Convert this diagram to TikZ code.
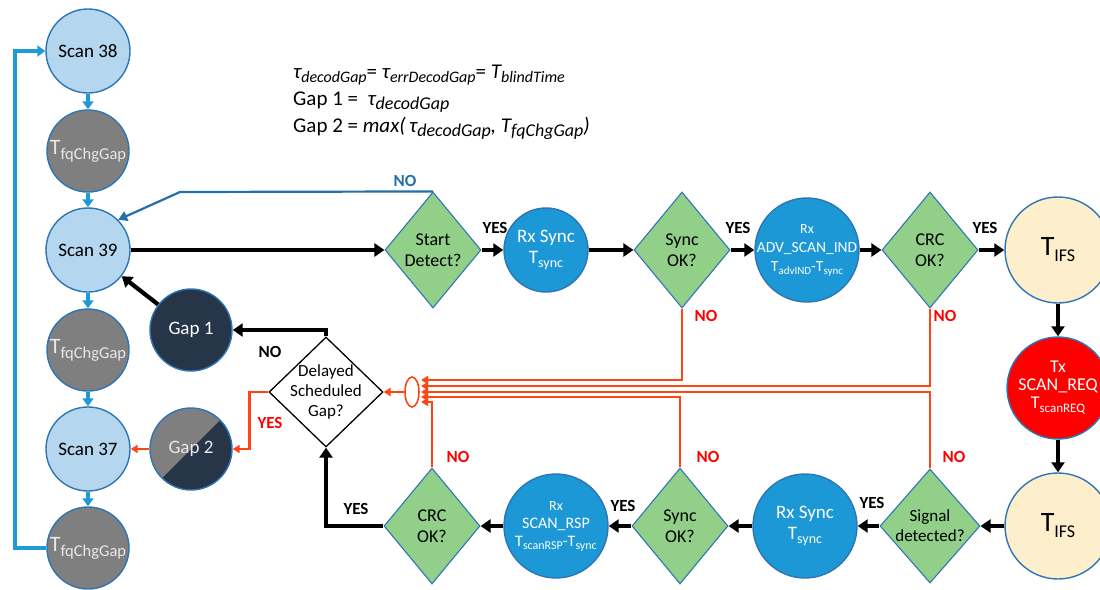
\documentclass[tikz,border=0pt]{standalone}
\usepackage{fontspec}
\setmainfont{Carlito}
\usetikzlibrary{shapes.geometric,arrows.meta,calc}
\definecolor{scanfill}{RGB}{180,214,238}
\definecolor{edgeblue}{RGB}{46,117,182}
\definecolor{grayfill}{RGB}{127,127,127}
\definecolor{navy}{RGB}{38,53,72}
\definecolor{rxblue}{RGB}{27,152,213}
\definecolor{decgreen}{RGB}{146,208,138}
\definecolor{cream}{RGB}{253,239,204}
\definecolor{arrowblue}{RGB}{30,154,214}
\definecolor{noblue}{RGB}{36,110,170}
\definecolor{redline}{RGB}{255,69,20}
\definecolor{lighttext}{RGB}{232,232,232}
\newcommand\sbx[3]{\raisebox{-#3}{\fontsize{#1}{#1}\selectfont #2}}
\begin{document}
\begin{tikzpicture}[x=1pt,y=-1pt,
  base/.style={circle, draw=edgeblue, line width=1.4pt, inner sep=0pt},
  scanc/.style={base, fill=scanfill, minimum size=84pt},
  grayc/.style={base, fill=grayfill, minimum size=82pt},
  darkc/.style={base, fill=navy, minimum size=82pt},
  rxc/.style={base, fill=rxblue, minimum size=84pt},
  rxbig/.style={base, fill=rxblue, minimum size=104pt},
  ifsc/.style={base, fill=cream, minimum size=106pt},
  txc/.style={base, fill=red, minimum size=102pt},
  dec/.style={diamond, draw=edgeblue, line width=1.1pt, fill=decgreen, minimum width=96pt, minimum height=116pt, inner sep=0pt},
  ctext/.style={align=center, inner sep=0pt, text=black, font=\fontsize{19}{21}\selectfont},
  wtext/.style={ctext, text=white},
  gtext/.style={ctext, text=lighttext},
  blk/.style={line width=4.2pt, -{Triangle[length=10pt,width=13pt]}},
  bluearr/.style={draw=arrowblue, line width=3.4pt, -{Triangle[length=8pt,width=11pt]}},
  noarr/.style={draw=noblue, line width=2.2pt, -{Triangle[length=9pt,width=10pt]}},
  redarr/.style={draw=redline, line width=2.5pt, -{Triangle[length=7pt,width=8pt]}},
  lbl/.style={font=\bfseries\fontsize{17}{19}\selectfont, inner sep=0pt},
  frm/.style={anchor=base west, inner sep=0pt, font=\fontsize{21}{23}\selectfont}
]
\useasboundingbox (0,0) rectangle (1100,589);

% formula text
\node[frm] (f1) at (293,78) {\itshape τ\sbx{16}{decodGap}{4pt}\upshape= \itshape τ\sbx{16}{errDecodGap}{4pt}\upshape= \itshape T\sbx{16}{blindTime}{4pt}};
\node[frm] (f2) at (293,105) {Gap 1 =\hspace{0.45em}{\itshape τ\sbx{18}{decodGap}{4pt}}};
\node[frm] (f3) at (293,132) {Gap 2 = {\itshape max(\,τ\sbx{18}{decodGap}{4pt}, T\sbx{18}{fqChgGap}{4pt})}};

% left column
\node[scanc, label={[ctext]center:Scan 38}] (scan38) at (88,51) {};
\node[grayc, label={[gtext, font=\fontsize{22}{22}\selectfont]center:T\sbx{16.5}{fqChgGap}{5pt}}] (fq1) at (88,151) {};
\node[scanc, label={[ctext]center:Scan 39}] (scan39) at (88,250) {};
\node[grayc, label={[gtext, font=\fontsize{22}{22}\selectfont]center:T\sbx{16.5}{fqChgGap}{5pt}}] (fq2) at (88,350) {};
\node[scanc, label={[ctext]center:Scan 37}] (scan37) at (88,449) {};
\node[grayc, label={[gtext, font=\fontsize{22}{22}\selectfont]center:T\sbx{16.5}{fqChgGap}{5pt}}] (fq3) at (88,548) {};
\coordinate (loopc) at (15,548);

% gaps
\node[darkc, label={[wtext]center:Gap 1}] (gap1) at (191,330) {};
\node[darkc, path picture={\fill[grayfill] (path picture bounding box.north west) -- (path picture bounding box.north east) -- (path picture bounding box.south west) -- cycle;}, label={[gtext]center:Gap 2}] (gap2) at (191,449) {};

% delayed decision
\node[diamond, draw=black, line width=1.3pt, fill=white, minimum width=114pt, minimum height=110pt, inner sep=0pt,
  label={[ctext, font=\fontsize{17}{20}\selectfont]center:Delayed\\Scheduled\\Gap?}] (del) at (326,392) {};
\node[ellipse, draw=redline, line width=1.6pt, minimum width=14pt, minimum height=30pt, inner sep=0pt] (orgate) at (412,392) {};

% top row
\node[dec, label={[ctext, font=\fontsize{18}{21}\selectfont]center:Start\\Detect?}] (start) at (433,250) {};
\node[rxc, label={[wtext]center:Rx Sync\\T\sbx{14}{sync}{4pt}}] (rxs1) at (546,250) {};
\node[dec, label={[ctext, font=\fontsize{18}{21}\selectfont]center:Sync\\OK?}] (so1) at (682,250) {};
\node[rxbig, label={[wtext, font=\fontsize{15.5}{19}\selectfont]center:{\fontsize{14}{19}\selectfont Rx}\\ADV\_SCAN\_IND\\T\sbx{11}{advIND}{3pt}-T\sbx{11}{sync}{3pt}}] (rxadv) at (807,250) {};
\node[dec, label={[ctext, font=\fontsize{18}{21}\selectfont]center:CRC\\OK?}] (crc1) at (930,250) {};
\node[ifsc, label={[ctext]center:{\fontsize{28}{30}\selectfont T}\sbx{18}{IFS}{6pt}}] (ifs1) at (1058,250) {};
\node[txc, label={[wtext, font=\fontsize{18}{18}\selectfont]center:Tx\\SCAN\_REQ\\T\sbx{13}{scanREQ}{4pt}}] (tx) at (1058,388) {};
\node[ifsc, label={[ctext]center:{\fontsize{28}{30}\selectfont T}\sbx{18}{IFS}{6pt}}] (ifs2) at (1058,526) {};

% bottom row
\node[dec, minimum width=100pt, minimum height=114pt, label={[ctext, font=\fontsize{17}{20}\selectfont]center:Signal\\detected?}] (sd) at (930,526) {};
\node[rxbig, label={[wtext]center:Rx Sync\\T\sbx{14}{sync}{4pt}}] (rxs2) at (805,526) {};
\node[dec, label={[ctext, font=\fontsize{18}{21}\selectfont]center:Sync\\OK?}] (so2) at (680,526) {};
\node[rxbig, label={[wtext, font=\fontsize{16}{18}\selectfont]center:{\fontsize{14}{18}\selectfont Rx}\\SCAN\_RSP\\T\sbx{12}{scanRSP}{3pt}-T\sbx{12}{sync}{3pt}}] (rxrsp) at (556,526) {};
\node[dec, label={[ctext, font=\fontsize{18}{21}\selectfont]center:CRC\\OK?}] (crc2) at (432,526) {};

% OR gate inputs
\coordinate (o1) at (421,380);
\coordinate (o2) at (421,386);
\coordinate (o3) at (421,392);
\coordinate (o4) at (421,397);
\coordinate (o5) at (421,402);
\coordinate (nobend) at (180,192);

% left column connectors
\draw[bluearr] (scan38) -- (fq1);
\draw[bluearr] (fq1) -- (scan39);
\draw[bluearr] (scan39) -- (fq2);
\draw[bluearr] (fq2) -- (scan37);
\draw[bluearr] (scan37) -- (fq3);
\draw[bluearr] (fq3.west) -- (loopc) |- (scan38.west);
\draw[noarr] (start.north) -- (nobend) -- (scan39.45);

% black flow
\draw[blk] (scan39) -- (start);
\draw[blk] (start) -- (rxs1);
\draw[blk] (rxs1) -- (so1);
\draw[blk] (so1) -- (rxadv);
\draw[blk] (rxadv) -- (crc1);
\draw[blk] (crc1) -- (ifs1);
\draw[blk] (ifs1) -- (tx);
\draw[blk] (tx) -- (ifs2);
\draw[blk] (ifs2) -- (sd);
\draw[blk] (sd) -- (rxs2);
\draw[blk] (rxs2) -- (so2);
\draw[blk] (so2) -- (rxrsp);
\draw[blk] (rxrsp) -- (crc2);
\draw[blk] (crc2.west) -| (del.south);
\draw[blk] (del.north) |- (gap1.east);
\draw[blk] (gap1) -- (scan39);

% red connectors
\draw[redarr] (so1.south) |- (o1);
\draw[redarr] (crc1.south) |- (o2);
\draw[redarr] (sd.north) |- (o3);
\draw[redarr] (so2.north) |- (o4);
\draw[redarr] (crc2.north) |- (o5);
\draw[redarr] (orgate.west) -- (del.east);
\draw[redarr] (del.west) -- ++(-19,0) |- (gap2.east);
\draw[redarr] (gap2.west) -- (scan37.east);

% labels
\node[lbl, text=noblue] at (405,181) {NO};
\node[lbl] at (495,228) {YES};
\node[lbl] at (738,228) {YES};
\node[lbl] at (985,228) {YES};
\node[lbl, text=red] at (706,316) {NO};
\node[lbl, text=red] at (945,316) {NO};
\node[lbl, text=red] at (458,457) {NO};
\node[lbl, text=red] at (708,457) {NO};
\node[lbl, text=red] at (954,457) {NO};
\node[lbl] at (872,503) {YES};
\node[lbl] at (623,506) {YES};
\node[lbl] at (356,509) {YES};
\node[lbl] at (270,352) {NO};
\node[lbl, text=red] at (270,423) {YES};
\end{tikzpicture}
\end{document}
